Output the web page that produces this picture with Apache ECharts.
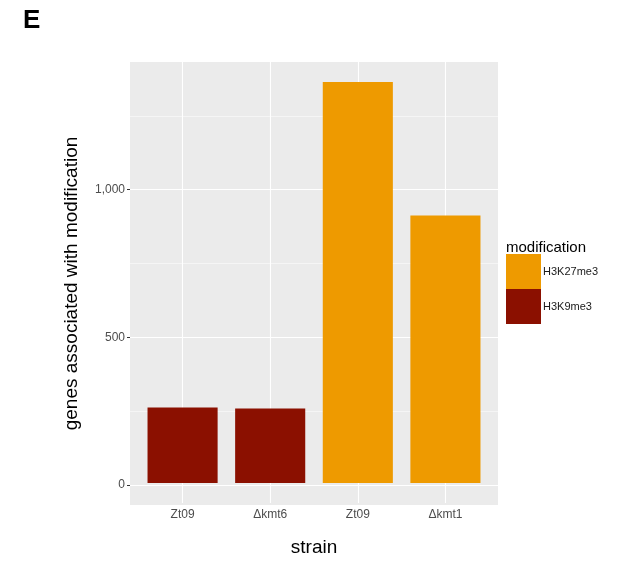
<!DOCTYPE html>
<html>
<head>
<meta charset="utf-8">
<script src="https://cdn.jsdelivr.net/npm/echarts@6/dist/echarts.min.js"></script>
<style>
  html, body { margin: 0; padding: 0; background: #fff; }
  #main { width: 622px; height: 562px; }
</style>
</head>
<body>
<div id="main"></div>
<script>
// data
const strains = ['Zt09', 'Δkmt6', 'Zt09', 'Δkmt1'];
const h3k9me3 = [257, 253, '-', '-'];
const h3k27me3 = ['-', '-', 1364, 910];
const yTicks = [0, 500, 1000];
const yMinor = [250, 750, 1250];

const FONT = '"Liberation Sans", Arial, sans-serif';
const RED = '#8B1000';
const ORANGE = '#EE9A00';

// ggplot style 5% expansion on the y scale
const yTop = 1364;
const yMin = -yTop * 0.05;
const yMax = yTop * 1.05;

// panel 130..498 x 62..505, discrete x expands 0.6 of a band each side
const panelL = 130, panelR = 498;
const band = (panelR - panelL) / (strains.length - 1 + 1.2);
const innerL = panelL + band * 0.1;
const innerR = 622 - panelR + band * 0.1;

const chart = echarts.init(document.getElementById('main'));

const gridLines = [];
yTicks.forEach(v => gridLines.push({ yAxis: v, lineStyle: { color: '#fff', width: 1.1, type: 'solid' } }));
yMinor.forEach(v => gridLines.push({ yAxis: v, lineStyle: { color: '#fff', width: 0.5, type: 'solid' } }));

chart.setOption({
    animation: false,
    textStyle: { fontFamily: FONT },
    title: [{
        text: 'E', left: 23, top: 8, padding: 0,
        textStyle: { fontSize: 26, fontWeight: 'bold', color: '#000', fontFamily: FONT }
    }, {
        text: 'modification', left: 506, top: 240, padding: 0,
        textStyle: { fontSize: 15, fontWeight: 'normal', color: '#000', fontFamily: FONT }
    }],
    legend: {
        data: ['H3K27me3', 'H3K9me3'],
        orient: 'vertical',
        left: 506, top: 254, padding: 0,
        itemWidth: 35, itemHeight: 35, itemGap: 0,
        icon: 'rect',
        textStyle: { fontSize: 11, color: '#1a1a1a', padding: [0, 0, 0, -3], fontFamily: FONT }
    },
    grid: [{
        left: panelL, right: 622 - panelR, top: 62, bottom: 57,
        show: true, backgroundColor: '#EBEBEB', borderWidth: 0
    }, {
        left: innerL, right: innerR, top: 62, bottom: 57
    }],
    xAxis: [{
        gridIndex: 0, type: 'value', min: 0, max: 1, show: false
    }, {
        gridIndex: 1, type: 'category', data: strains,
        name: 'strain', nameLocation: 'middle', nameGap: 35,
        nameTextStyle: { fontSize: 19, color: '#000', fontFamily: FONT },
        axisLine: { show: false },
        axisTick: { alignWithLabel: true, length: 3, lineStyle: { color: '#333' } },
        axisLabel: { fontSize: 12, color: '#4D4D4D', margin: 6, fontFamily: FONT },
        splitLine: { show: false }
    }],
    yAxis: [{
        gridIndex: 0, type: 'value', min: yMin, max: yMax,
        name: 'genes associated with modification', nameLocation: 'middle', nameGap: 49,
        nameTextStyle: { fontSize: 19, color: '#000', fontFamily: FONT },
        axisLine: { show: false },
        axisTick: { show: true, length: 3, customValues: yTicks, lineStyle: { color: '#333' } },
        axisLabel: {
            fontSize: 12, color: '#4D4D4D', margin: 5, customValues: yTicks, fontFamily: FONT,
            formatter: v => v.toLocaleString('en-US')
        },
        splitLine: { show: false }
    }, {
        gridIndex: 1, type: 'value', min: yMin, max: yMax, show: false,
        splitLine: { show: false }
    }],
    series: [{
        // horizontal panel grid
        type: 'line', xAxisIndex: 0, yAxisIndex: 0, data: [], z: 1, silent: true,
        markLine: { symbol: 'none', silent: true, z: 1, label: { show: false }, data: gridLines }
    }, {
        // vertical panel grid at category centres
        type: 'line', xAxisIndex: 1, yAxisIndex: 1, data: [], z: 1, silent: true,
        markLine: {
            symbol: 'none', silent: true, z: 1, label: { show: false },
            lineStyle: { color: '#fff', width: 1.1, type: 'solid' },
            data: strains.map((s, i) => ({ xAxis: i }))
        }
    }, {
        name: 'H3K9me3', type: 'bar', xAxisIndex: 1, yAxisIndex: 1,
        stack: 'all', barWidth: '80%', data: h3k9me3, z: 3,
        itemStyle: { color: RED }
    }, {
        name: 'H3K27me3', type: 'bar', xAxisIndex: 1, yAxisIndex: 1,
        stack: 'all', barWidth: '80%', data: h3k27me3, z: 3,
        itemStyle: { color: ORANGE }
    }]
});
</script>
</body>
</html>
